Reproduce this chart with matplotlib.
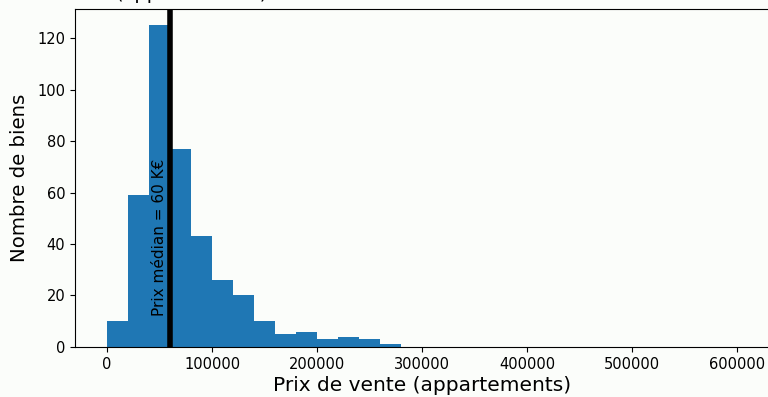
import numpy as np
import matplotlib
matplotlib.use("Agg")
import matplotlib.pyplot as plt

# Histogramme des prix de vente (appartements)
bornes = np.arange(0, 600001, 20000)
effectifs = [10, 59, 125, 77, 43, 26, 20, 10, 5, 6, 3, 4, 3, 1] + [0] * 16
prix_median = 60000

fond = "#fbfdfa"
fig = plt.figure(figsize=(7.68, 3.97), dpi=100, facecolor=fond)
ax = fig.add_axes([0.0977, 0.126, 0.903, 0.851], facecolor=fond)

ax.hist(bornes[:-1], bins=bornes, weights=effectifs, color="#1f77b4")
ax.axvline(prix_median, color="black", linewidth=4)
ax.text(prix_median - 2500, 12, "Prix médian = 60 K€", rotation=90,
        ha="right", va="bottom", fontsize=11)

ax.set_xlim(-30500, 630000)
ax.set_ylim(0, 131.25)
ax.set_xticks([0, 100000, 200000, 300000, 400000, 500000, 600000])
ax.set_yticks([0, 20, 40, 60, 80, 100, 120])
ax.tick_params(labelsize=10.5)
ax.set_xlabel("Prix de vente (appartements)", fontsize=14.5, labelpad=3)
ax.set_ylabel("Nombre de biens", fontsize=14.2, labelpad=6)

fig.text(191.5 / 768, 1.002, "(appartements)", ha="center", va="baseline", fontsize=14)

fig.savefig("out.png", dpi=100, facecolor=fond)
